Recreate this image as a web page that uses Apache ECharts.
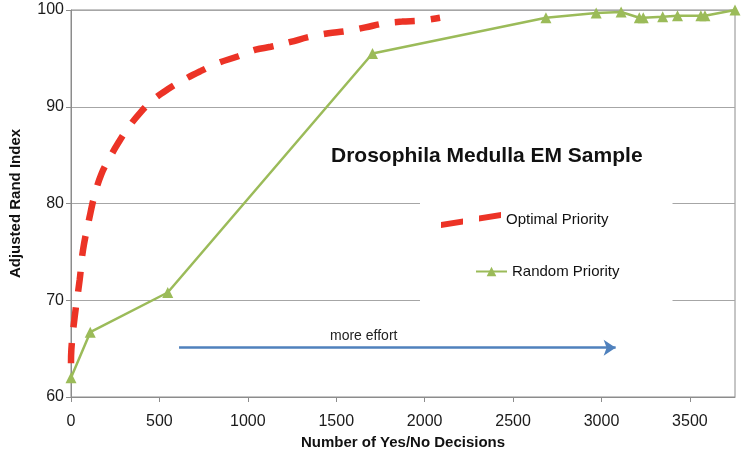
<!DOCTYPE html>
<html>
<head>
<meta charset="utf-8">
<script src="https://cdn.jsdelivr.net/npm/echarts@6/dist/echarts.min.js"></script>
<style>
html,body{margin:0;padding:0;background:#fff;}
#c{width:747px;height:460px;}
</style>
</head>
<body>
<div id="c"></div>
<script>
// ---- data ----
const optimalX = [0, 2, 21, 49, 68, 105, 134, 171, 218, 265, 322, 397, 463, 547, 639, 735, 829, 942, 1045, 1130, 1242, 1343, 1456, 1552, 1665, 1766, 1872, 1975, 2087];
const optimalY = [63.5, 64.9, 68.3, 72.1, 75.2, 78.6, 80.9, 83.0, 84.7, 86.2, 87.8, 89.5, 90.7, 91.8, 92.8, 93.7, 94.5, 95.2, 95.9, 96.2, 96.7, 97.2, 97.6, 97.8, 98.2, 98.6, 98.8, 98.9, 99.2];
const randomX = [0, 109, 547, 1705, 2686, 2970, 3111, 3214, 3236, 3346, 3430, 3562, 3585, 3755];
const randomY = [62, 66.7, 70.8, 95.5, 99.2, 99.7, 99.8, 99.2, 99.2, 99.3, 99.4, 99.4, 99.4, 100];
const xTicks = {min: 0, max: 3755, interval: 500};
const yTicks = {min: 60, max: 100, interval: 10};
const seriesNames = ['Optimal Priority', 'Random Priority'];
const chartTitle = 'Drosophila Medulla EM Sample';
const xName = 'Number of Yes/No Decisions';
const yName = 'Adjusted Rand Index';
const arrowText = 'more effort';
const arrowFrom = [611, 65.1];
const arrowTo = [3080, 65.1];

const zip = (a, b) => a.map((v, i) => [v, b[i]]);
const FONT = 'Liberation Sans, Arial, sans-serif';
const RED = '#ec3326';
const GREEN = '#9bbb59';
const dashIcon = 'path://M0,10 L22,6.5 L22,12.5 L0,16 Z M38,3.5 L60,0 L60,6 L38,9.5 Z';

const chart = echarts.init(document.getElementById('c'), null, {renderer: 'canvas'});
chart.setOption({
  animation: false,
  backgroundColor: '#fff',
  textStyle: {fontFamily: FONT},
  title: {
    text: chartTitle, left: 326, top: 141,
    textStyle: {fontFamily: FONT, fontSize: 21, fontWeight: 'bold', color: '#111'}
  },
  grid: {left: 69, right: 12, top: 10, bottom: 63, show: true, borderColor: '#8c8c8c', borderWidth: 1, backgroundColor: 'transparent'},
  legend: [
    {
      data: [{name: seriesNames[0], icon: dashIcon}], orient: 'vertical', left: 420, top: 195,
      padding: [17, 64, 75, 21], backgroundColor: '#fff',
      itemWidth: 60, itemHeight: 16, itemGap: 5, selectedMode: false,
      itemStyle: {color: RED, borderWidth: 0},
      textStyle: {fontFamily: FONT, fontSize: 15, color: '#111'}, z: 5
    },
    {
      data: [seriesNames[1]], orient: 'vertical', left: 475, top: 264,
      padding: 0, itemWidth: 31, itemHeight: 12, selectedMode: false,
      textStyle: {fontFamily: FONT, fontSize: 15, color: '#111'}, z: 6
    }
  ],
  xAxis: {
    type: 'value', min: xTicks.min, max: xTicks.max, interval: xTicks.interval,
    name: xName, nameLocation: 'middle', nameGap: 37,
    nameTextStyle: {fontFamily: FONT, fontSize: 15, fontWeight: 'bold', color: '#111'},
    axisLine: {show: true, lineStyle: {color: '#8c8c8c', width: 1}},
    axisTick: {show: true, length: 5, lineStyle: {color: '#8c8c8c'}},
    axisLabel: {fontFamily: FONT, fontSize: 16, color: '#1a1a1a', margin: 17, showMaxLabel: false,
      formatter: v => String(v)},
    splitLine: {show: false}
  },
  yAxis: {
    type: 'value', min: yTicks.min, max: yTicks.max, interval: yTicks.interval,
    name: yName, nameLocation: 'middle', nameGap: 48, nameRotate: 90,
    nameTextStyle: {fontFamily: FONT, fontSize: 15, fontWeight: 'bold', color: '#111'},
    axisLine: {show: true, lineStyle: {color: '#8c8c8c', width: 1}},
    axisTick: {show: true, length: 5, lineStyle: {color: '#8c8c8c'}},
    axisLabel: {fontFamily: FONT, fontSize: 16, color: '#1a1a1a', margin: 7},
    splitLine: {show: true, lineStyle: {color: '#a6a6a6', width: 1}}
  },
  graphic: [
    {type: 'text', left: 330, top: 329, z: 10,
     style: {text: arrowText, font: '14px ' + FONT, fill: '#222'}}
  ],
  series: [
    {
      name: seriesNames[0], type: 'line', data: zip(optimalX, optimalY),
      smooth: 0.4, showSymbol: false, symbol: 'none',
      lineStyle: {color: RED, width: 6.5, type: [20, 16], cap: 'butt'},
      itemStyle: {color: RED}, z: 3
    },
    {
      name: seriesNames[1], type: 'line', data: zip(randomX, randomY),
      symbol: 'triangle', symbolSize: 11, clip: false,
      lineStyle: {color: GREEN, width: 2.5},
      itemStyle: {color: GREEN}, z: 4,
      markLine: {
        silent: true, symbol: ['none', 'arrow'], symbolSize: 12,
        label: {show: false},
        lineStyle: {color: '#4f81bd', width: 2.5, type: 'solid'},
        itemStyle: {color: '#4f81bd'},
        data: [[{coord: arrowFrom}, {coord: arrowTo}]]
      }
    }
  ]
});
</script>
</body>
</html>
